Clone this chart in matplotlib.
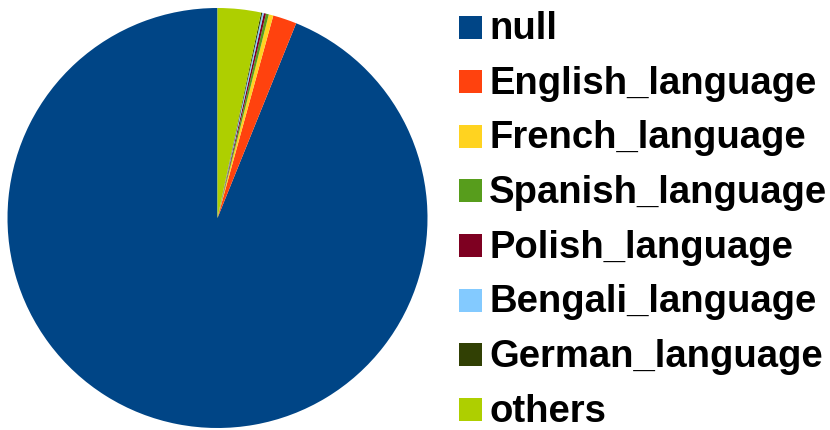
import matplotlib.pyplot as plt
from matplotlib.patches import Rectangle

plt.rcParams['font.family'] = ['Liberation Sans', 'DejaVu Sans']

labels = ['null', 'English_language', 'French_language', 'Spanish_language',
          'Polish_language', 'Bengali_language', 'German_language', 'others']
shares = [93.89, 1.83, 0.35, 0.22, 0.17, 0.12, 0.09, 3.33]
colors = ['#004586', '#ff420e', '#ffd320', '#579d1c',
          '#7e0021', '#83caff', '#314004', '#aecf00']

W, H = 830, 430
fig = plt.figure(figsize=(W / 100, H / 100), dpi=100)

# pie area in pixels: x 7.5..427.5, y 8..428 (from top)
ax = fig.add_axes([7.5 / W, (H - 428) / H, 420 / W, 420 / H])
ax.pie(shares, colors=colors, startangle=90, counterclock=True,
       wedgeprops={'linewidth': 0})
ax.set_xlim(-1, 1)
ax.set_ylim(-1, 1)
ax.set_aspect('equal')
ax.axis('off')

# legend drawn by hand, one row per category
sq = 23.0
pitch = 54.6
for i, (lab, col) in enumerate(zip(labels, colors)):
    top = 15.7 + i * pitch
    fig.patches.append(Rectangle((458.5 / W, (H - top - sq) / H), sq / W, sq / H,
                                 transform=fig.transFigure, facecolor=col,
                                 edgecolor='none'))
    fig.text(489 / W, (H - (39.3 + i * pitch)) / H, lab, fontsize=27.5,
             fontweight='bold', va='baseline', ha='left', color='black')

fig.savefig('out.png', dpi=100)
